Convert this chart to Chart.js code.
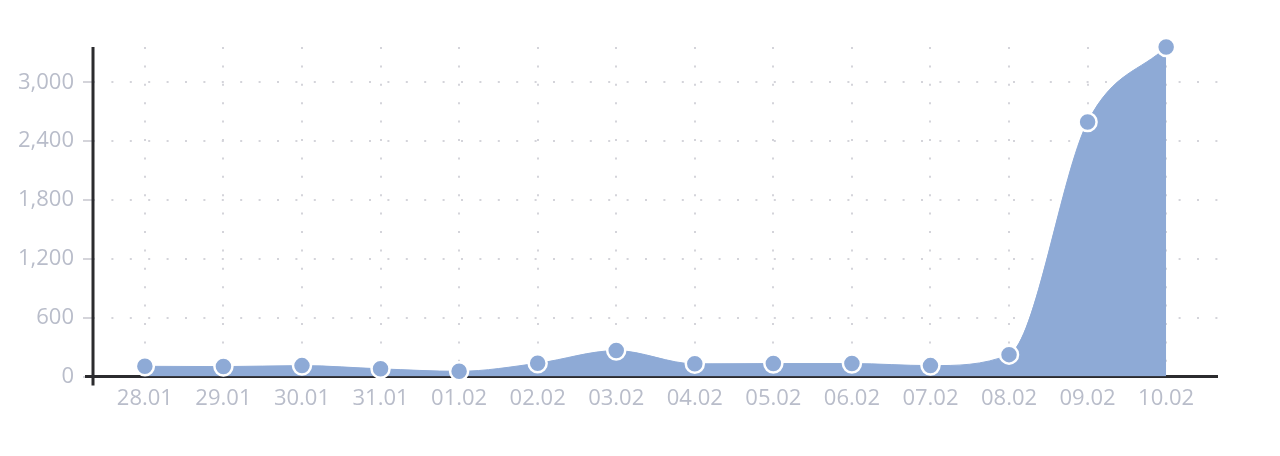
<!DOCTYPE html>
<html>
<head>
<meta charset="utf-8">
<script src="https://cdn.jsdelivr.net/npm/chart.js@4/dist/chart.umd.min.js"></script>
<style>
	html, body { margin: 0; padding: 0; background: #fff; }
	#wrap { width: 1280px; height: 456px; }
</style>
</head>
<body>
<div id="wrap"><canvas id="chartDays"></canvas></div>
<script>
const days = ['28.01', '29.01', '30.01', '31.01', '01.02', '02.02', '03.02', '04.02', '05.02', '06.02', '07.02', '08.02', '09.02', '10.02'];
const counts = [105, 102, 112, 79, 54, 136, 265, 130, 133, 133, 112, 224, 2595, 3360];
const yTicks = [0, 600, 1200, 1800, 2400, 3000];

const blue = '#8eaad6';
const axisColor = '#2b2b2e';
const labelColor = '#b9bdca';

// lignes des axes (avec les petits dépassements à l'origine)
const axisLines = {
	id: 'axisLines',
	beforeDatasetsDraw(chart) {
		const { ctx, chartArea: a } = chart;
		ctx.save();
		ctx.strokeStyle = axisColor;
		ctx.lineWidth = 3;
		ctx.beginPath();
		ctx.moveTo(a.left - 8, a.bottom);
		ctx.lineTo(a.right, a.bottom);
		ctx.moveTo(a.left, a.top);
		ctx.lineTo(a.left, a.bottom + 9);
		ctx.stroke();
		ctx.restore();
	}
};

new Chart(document.getElementById('chartDays'), {
	type: 'line',
	data: {
		datasets: [{
			label: 'Jours',
			data: days.map((d, i) => ({ x: i, y: counts[i] })),
			borderColor: blue,
			borderWidth: 1,
			backgroundColor: blue,
			fill: 'origin',
			cubicInterpolationMode: 'monotone',
			pointRadius: 9,
			pointHoverRadius: 9,
			pointBorderWidth: 2.5,
			pointBorderColor: '#fff',
			pointBackgroundColor: blue,
			clip: false
		}]
	},
	options: {
		responsive: true,
		maintainAspectRatio: false,
		animation: false,
		layout: { padding: { top: 47, left: 9, right: 62, bottom: 35 } },
		plugins: { legend: { display: false }, tooltip: { enabled: false } },
		scales: {
			x: {
				type: 'linear',
				min: -0.66,
				max: days.length - 1 + 0.66,
				border: { display: false, dash: [2, 16.4] },
				grid: { color: '#d4d4da', lineWidth: 2, drawTicks: false },
				afterBuildTicks: scale => { scale.ticks = days.map((d, i) => ({ value: i })); },
				ticks: {
					padding: 9,
					color: labelColor,
					font: { family: 'Open Sans', size: 22 },
					callback: v => days[v],
					maxRotation: 0,
					autoSkip: false
				}
			},
			y: {
				min: 0,
				max: 3360,
				border: { display: false, dash: [2, 16.4] },
				grid: { color: '#d4d4da', lineWidth: 2, tickLength: 10 },
				afterBuildTicks: scale => { scale.ticks = yTicks.map(v => ({ value: v })); },
				ticks: {
					padding: 9,
					color: labelColor,
					font: { family: 'Open Sans', size: 22 },
					callback: v => v.toLocaleString('en-US')
				}
			}
		}
	},
	plugins: [axisLines]
});
</script>
</body>
</html>
